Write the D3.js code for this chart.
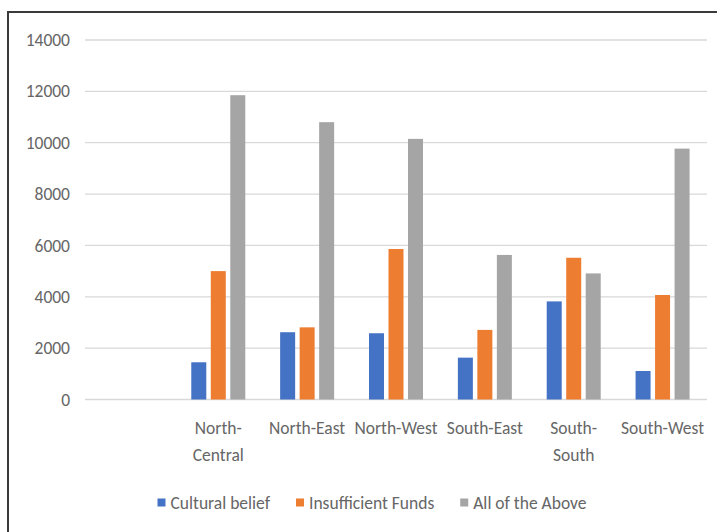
<!DOCTYPE html>
<html>
<head>
<meta charset="utf-8">
<script src="https://cdn.jsdelivr.net/npm/d3@7"></script>
<style>
  html, body { margin: 0; padding: 0; background: #fff; }
  svg { display: block; }
  text { font-family: Carlito, Calibri, Lato, sans-serif; fill: #666; }
</style>
</head>
<body>
<svg id="chart" width="717" height="532"></svg>
<script>
// ---- data ----
const categories = ["", "North-Central", "North-East", "North-West", "South-East", "South-South", "South-West"];
const seriesNames = ["Cultural belief", "Insufficient Funds", "All of the Above"];
const culturalBelief    = [null, 1450, 2620, 2580, 1630, 3820, 1110];
const insufficientFunds = [null, 5000, 2810, 5860, 2710, 5520, 4070];
const allOfTheAbove     = [null, 11850, 10800, 10150, 5630, 4910, 9770];
const yTicks = [0, 2000, 4000, 6000, 8000, 10000, 12000, 14000];
const colors = ["#4472C4", "#ED7D31", "#A5A5A5"];

const seriesValues = [culturalBelief, insufficientFunds, allOfTheAbove];

// ---- layout ----
const svg = d3.select("#chart");
const W = 717, H = 532;
const plot = { left: 85, right: 707, top: 40, bottom: 399.5 };
const fontSize = 17.5;

// frame
svg.append("rect")
  .attr("x", 8).attr("y", 12)
  .attr("width", W + 20).attr("height", H + 20)
  .attr("fill", "#fff")
  .attr("stroke", "#3a3a3a").attr("stroke-width", 2);

const x = d3.scaleBand().domain(categories.map((c, i) => i)).range([plot.left, plot.right]).padding(0);
const y = d3.scaleLinear().domain([0, 14000]).range([plot.bottom, plot.top]);

// gridlines
svg.append("g").selectAll("line").data(yTicks).join("line")
  .attr("x1", plot.left).attr("x2", plot.right)
  .attr("y1", d => y(d)).attr("y2", d => y(d))
  .attr("stroke", "#d9d9d9").attr("stroke-width", 1.3);

// y axis labels
const yAxis = d3.axisLeft(y).tickValues(yTicks).tickSize(0).tickPadding(15).tickFormat(d3.format("d"));
const gy = svg.append("g").attr("transform", `translate(${plot.left},0)`).call(yAxis);
gy.select(".domain").remove();
gy.selectAll("text").style("font-size", fontSize + "px").attr("fill", "#666")
  .style("font-family", "Carlito, Calibri, Lato, sans-serif");

// bars
const barW = 15, barGap = 4.5;
const groupW = 3 * barW + 2 * barGap;
const inner = d3.scaleBand().domain([0, 1, 2]).range([0, groupW]).paddingInner(barGap / (barW + barGap)).paddingOuter(0);

seriesValues.forEach((vals, s) => {
  svg.append("g").selectAll("rect")
    .data(vals.map((v, i) => ({ v, i })).filter(d => d.v != null))
    .join("rect")
    .attr("x", d => x(d.i) + (x.bandwidth() - groupW) / 2 + inner(s))
    .attr("width", inner.bandwidth())
    .attr("y", d => y(d.v))
    .attr("height", d => y(0) - y(d.v))
    .attr("fill", colors[s]);
});

// x axis labels with wrapping
const xAxis = d3.axisBottom(x).tickSize(0).tickPadding(0).tickFormat(i => categories[i]);
const gx = svg.append("g").attr("transform", `translate(0,${plot.bottom})`).call(xAxis);
gx.select(".domain").remove();
gx.selectAll("text").each(function(i) {
  const t = d3.select(this);
  const label = categories[i];
  t.text(null).attr("y", 0).attr("dy", null)
    .style("font-size", fontSize + "px")
    .style("font-family", "Carlito, Calibri, Lato, sans-serif")
    .attr("fill", "#666");
  const tmp = t.append("tspan").text(label);
  const wTxt = tmp.node().getComputedTextLength();
  tmp.remove();
  let lines = [label];
  if (wTxt > x.bandwidth() - 3 && label.includes("-")) {
    const k = label.indexOf("-");
    lines = [label.slice(0, k + 1), label.slice(k + 1)];
  }
  lines.forEach((ln, j) => {
    t.append("tspan").attr("x", 0).attr("y", 34 + j * 27).text(ln);
  });
});

// legend
const legend = svg.append("g");
const legendY = 503;
let cx = 0;
seriesNames.forEach((name, s) => {
  const g = legend.append("g");
  g.append("rect").attr("x", 0).attr("y", -4.5).attr("width", 8).attr("height", 8).attr("fill", colors[s]);
  const tx = g.append("text").attr("x", 13).attr("y", 0).attr("dy", "0.35em")
    .style("font-size", fontSize + "px").text(name);
  const w = 13 + tx.node().getComputedTextLength();
  g.attr("transform", `translate(${cx},${legendY})`);
  cx += w + 26;
});
const totalW = cx - 26;
legend.attr("transform", `translate(${372 - totalW / 2},0)`);
</script>
</body>
</html>
